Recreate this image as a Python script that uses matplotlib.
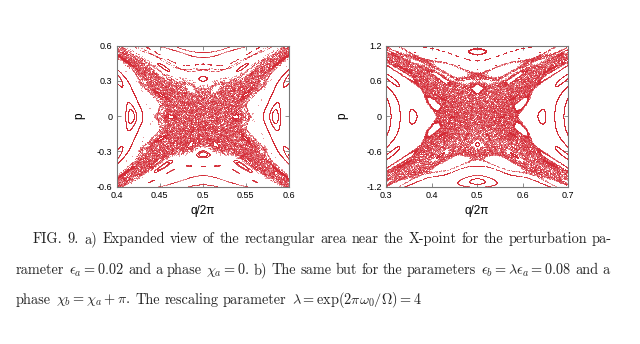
import numpy as np
import matplotlib
matplotlib.use('Agg')
import matplotlib.pyplot as plt

plt.rcParams['mathtext.fontset'] = 'cm'

RED = '#d42a35'

# panel a) map strength and X-point slope
K_a, w_a = 0.62, 0.88
# panel b)
K_b, w_b = 0.82, 0.84

# starting points (q/2pi, p)
seeds_a = [(0.5, 0.0), (0.5, 0.05), (0.5, -0.05), (0.47, 0.0), (0.53, 0.0), (0.5, 0.15),
           (0.5, -0.15), (0.45, 0.2), (0.55, -0.2)]
rot_a = [0.3, 0.34, 0.4, 0.45, 0.5, 0.55, 0.6, -0.25, -0.3, -0.35, -0.42, -0.5, -0.58, -0.65]
lib_a = [0.40, 0.41, 0.42, 0.43, 0.57, 0.58, 0.59, 0.60]

seeds_b = [(0.5, 0.0), (0.5, 0.1), (0.5, -0.1), (0.45, 0.0), (0.55, 0.0), (0.5, 0.3),
           (0.5, -0.3), (0.4, 0.5), (0.6, -0.5)]
rot_b = [0.6, 0.7, 0.8, 0.95, 1.05, 1.15, -0.5, -0.6, -0.72, -0.85, -1.0, -1.15, -1.3]
lib_b = [0.30, 0.31, 0.33, 0.35, 0.65, 0.67, 0.69, 0.70]

xlim_a, ylim_a = (0.4, 0.6), (-0.6, 0.6)
xticks_a = [0.4, 0.45, 0.5, 0.55, 0.6]
yticks_a = [-0.6, -0.3, 0, 0.3, 0.6]
xlim_b, ylim_b = (0.3, 0.7), (-1.2, 1.2)
xticks_b = [0.3, 0.4, 0.5, 0.6, 0.7]
yticks_b = [-1.2, -0.6, 0, 0.6, 1.2]

N_CHAOS = 8000
N_ROT = 1500
N_LIB = 4000


def run_map(q0, p0, K, w, n):
    h = np.sqrt(K) / w
    x = (np.asarray(q0, float) - 0.5) * 2 * np.pi
    P = np.asarray(p0, float) * h
    xs = np.empty((n, len(x)))
    ps = np.empty((n, len(x)))
    for i in range(n):
        P = P + 0.5 * K * np.sin(x)
        x = x + P
        P = P + 0.5 * K * np.sin(x)
        x = (x + np.pi) % (2 * np.pi) - np.pi
        xs[i] = x
        ps[i] = P
    return xs / (2 * np.pi) + 0.5, ps / h


def section(ax, K, w, seeds, rot, lib):
    sq, sp = zip(*seeds)
    q, p = run_map(sq, sp, K, w, N_CHAOS)
    ax.plot(q.ravel(), p.ravel(), '.', ms=0.85, mew=0, color=RED)
    q, p = run_map([0.5] * len(rot), rot, K, w, N_ROT)
    ax.plot(q.ravel(), p.ravel(), '.', ms=0.85, mew=0, color=RED)
    q, p = run_map(lib, [0.0] * len(lib), K, w, N_LIB)
    ax.plot(q.ravel(), p.ravel(), '.', ms=0.85, mew=0, color=RED)


fig = plt.figure(figsize=(6.4, 3.44), dpi=100)
ax_a = fig.add_axes([116.7 / 640, 1 - 186.7 / 344, 172 / 640, 141 / 344])
ax_b = fig.add_axes([386 / 640, 1 - 186.7 / 344, 182 / 640, 141 / 344])

section(ax_a, K_a, w_a, seeds_a, rot_a, lib_a)
section(ax_b, K_b, w_b, seeds_b, rot_b, lib_b)

for ax, xl, yl, xt, yt, lx in [(ax_a, xlim_a, ylim_a, xticks_a, yticks_a, -0.18),
                               (ax_b, xlim_b, ylim_b, xticks_b, yticks_b, -0.205)]:
    ax.set_xlim(xl)
    ax.set_ylim(yl)
    ax.set_xticks(xt)
    ax.set_yticks(yt)
    ax.set_xticklabels([f'{v:g}' for v in xt], family='Liberation Sans')
    ax.set_yticklabels([f'{v:g}' for v in yt], family='Liberation Sans')
    ax.tick_params(direction='in', length=3, width=0.6, color='#777777',
                   labelsize=6.5, top=True, right=True, pad=3)
    for s in ax.spines.values():
        s.set_color('#777777')
        s.set_linewidth(0.8)
    ax.set_xlabel('q/2π', fontsize=8.5, family='Liberation Sans', labelpad=4)
    ax.set_ylabel('p', fontsize=8.5, family='Liberation Sans')
    ax.yaxis.set_label_coords(lx, 0.5)

# caption, justified like the paper
line1 = r"FIG. 9. a) Expanded view of the rectangular area near the X-point for the perturbation pa-"
line2 = (r"rameter $\epsilon_a = 0.02$ and a phase $\chi_a = 0$. b) The same but for the parameters "
         r"$\epsilon_b = \lambda\epsilon_a = 0.08$ and a")
line3 = r"phase $\chi_b = \chi_a + \pi$. The rescaling parameter $\lambda = \exp(2\pi\omega_0/\Omega) = 4$"


def split_words(s):
    out, cur, inmath = [], '', False
    for c in s:
        if c == '$':
            inmath = not inmath
        if c == ' ' and not inmath:
            if cur:
                out.append(cur)
            cur = ''
        else:
            cur += c
    if cur:
        out.append(cur)
    return out


renderer = fig.canvas.get_renderer()
CAP_FS = 10.3


def place_line(s, x0, x1, y, justify):
    words = split_words(s)
    texts = [fig.text(0, y / 344, wd, fontsize=CAP_FS, family='cmr10',
                      va='center', ha='left', color='#222222') for wd in words]
    widths = [t.get_window_extent(renderer).width for t in texts]
    space = CAP_FS * 100 / 72 * 0.333
    if justify:
        space = (x1 - x0 - sum(widths)) / (len(words) - 1)
    x = x0
    for t, wd in zip(texts, widths):
        t.set_x(x / 640)
        x += wd + space


place_line(line1, 33, 612, 344 - 239, True)
place_line(line2, 16, 610, 344 - 270, True)
place_line(line3, 16, 610, 344 - 300, False)

fig.savefig('out.png', dpi=100)
